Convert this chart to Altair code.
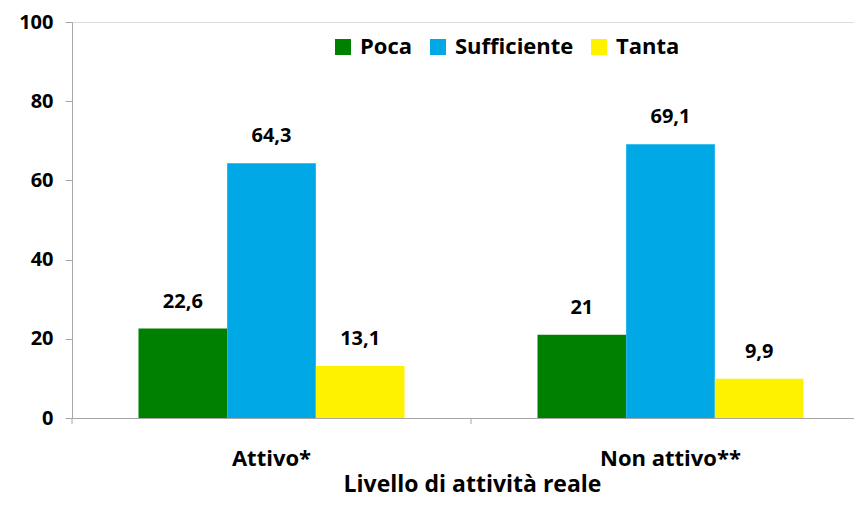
import altair as alt
import pandas as pd

groups = ["Attivo*", "Non attivo**"]
series = ["Poca", "Sufficiente", "Tanta"]
values = {
    "Poca": [22.6, 21.0],
    "Sufficiente": [64.3, 69.1],
    "Tanta": [13.1, 9.9],
}
labels = {
    "Poca": ["22,6", "21"],
    "Sufficiente": ["64,3", "69,1"],
    "Tanta": ["13,1", "9,9"],
}
colors = ["#008000", "#00a9e6", "#fff200"]

rows = []
for s in series:
    for i, g in enumerate(groups):
        rows.append({"gruppo": g, "serie": s, "valore": values[s][i], "etichetta": labels[s][i]})
df = pd.DataFrame(rows)

FONT = "Open Sans"
W, H = 782, 396
XRANGE = 798

x = alt.X("gruppo:N", sort=groups, scale=alt.Scale(paddingInner=0, paddingOuter=0, range=[0, XRANGE]),
          axis=alt.Axis(title="Livello di attività reale", labelAngle=0, ticks=False,
                        labelFontSize=22, labelFontWeight="bold", labelColor="black",
                        labelPadding=30, titleFontSize=23, titleFontWeight="bold",
                        titleColor="black", titlePadding=4, domainColor="#a6a6a6",
                        labelFont=FONT, titleFont=FONT, titleX=400))
xo = alt.XOffset("serie:N", sort=series, scale=alt.Scale(paddingOuter=0.75, paddingInner=0))
y = alt.Y("valore:Q", scale=alt.Scale(domain=[0, 100], nice=False),
          axis=alt.Axis(title=None, values=[0, 20, 40, 60, 80, 100], grid=False,
                        tickSize=7, tickColor="#a6a6a6", domainColor="#a6a6a6",
                        labelFontSize=20, labelFontWeight="bold", labelColor="black",
                        labelPadding=12, labelFont=FONT))
color = alt.Color("serie:N", sort=series, scale=alt.Scale(domain=series, range=colors),
                  legend=alt.Legend(title=None, orient="none", legendX=260, legendY=14,
                                    direction="horizontal", symbolType="square",
                                    symbolSize=256, symbolStrokeWidth=0,
                                    labelFontSize=22, labelFontWeight="bold",
                                    labelColor="black", labelFont=FONT,
                                    columnPadding=14, labelOffset=6))

base = alt.Chart(df)
bars = base.mark_bar().encode(x=x, xOffset=xo, y=y, color=color)
text = base.mark_text(dy=-17, baseline="bottom", fontSize=20, fontWeight="bold",
                      font=FONT, color="black").encode(
    x=alt.X("gruppo:N", sort=groups), xOffset=xo, y="valore:Q", text="etichetta:N")
ticks = alt.Chart(pd.DataFrame({"gruppo": groups})).mark_rule(color="#a6a6a6").encode(
    x=alt.X("gruppo:N", sort=groups, bandPosition=0),
    y=alt.value(H), y2=alt.value(H + 6))

chart = alt.layer(bars, text, ticks).properties(
    width=W, height=H,
    autosize=alt.AutoSizeParams(type="none"),
    padding={"left": 64, "top": 14, "right": 0, "bottom": 83},
).configure_view(stroke=None).configure(font=FONT)

chart.save("out.html", embed_options={"renderer": "svg", "actions": False})
